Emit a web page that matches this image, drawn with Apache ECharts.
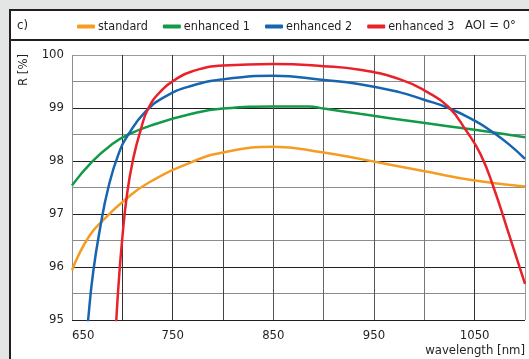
<!DOCTYPE html>
<html>
<head>
<meta charset="utf-8">
<script src="https://cdn.jsdelivr.net/npm/echarts@6/dist/echarts.min.js"></script>
<style>
  html, body { margin: 0; padding: 0; background: #e3e6e5; }
  #chart { width: 529px; height: 359px; }
</style>
</head>
<body>
<div id="chart"></div>
<script>
// Reflectance R [%] of mirror coatings versus wavelength, AOI = 0°
const seriesNames = ['standard', 'enhanced 1', 'enhanced 2', 'enhanced 3'];
const seriesColors = ['#f59d23', '#129a48', '#1765b0', '#e8212b'];

const standardWl = [650, 667, 683, 701, 726, 769, 800, 850, 900, 936, 999, 1050, 1100];
const standardR  = [95.94, 96.58, 96.92, 97.24, 97.59, 97.98, 98.16, 98.27, 98.16, 98.04, 97.81, 97.63, 97.52];

const enhanced1Wl = [650, 670, 690, 706, 730, 769, 800, 850, 885, 900, 936, 999, 1050, 1100];
const enhanced1R  = [97.54, 97.99, 98.32, 98.5, 98.68, 98.89, 98.99, 99.03, 99.03, 98.99, 98.89, 98.72, 98.59, 98.45];

const enhanced2Wl = [660, 666, 671, 678, 686, 696, 706, 723, 743, 769, 800, 850, 900, 936, 975, 999, 1024, 1050, 1069, 1085, 1100];
const enhanced2R  = [93.8, 95.0, 95.9, 96.74, 97.49, 98.12, 98.5, 98.93, 99.22, 99.42, 99.54, 99.61, 99.53, 99.45, 99.3, 99.16, 99.0, 98.76, 98.53, 98.3, 98.04];

const enhanced3Wl = [690, 694, 696, 700, 705, 711, 718, 726, 740, 753, 769, 800, 850, 900, 936, 976, 1003, 1024, 1042, 1056, 1069, 1082, 1100];
const enhanced3R  = [93.8, 95.0, 95.6, 96.55, 97.42, 98.06, 98.57, 99.0, 99.35, 99.54, 99.69, 99.8, 99.83, 99.79, 99.72, 99.54, 99.3, 99.02, 98.56, 98.12, 97.49, 96.74, 95.68];

const xLabelTicks = [650, 750, 850, 950, 1050];
const yLabelTicks = [95, 96, 97, 98, 99, 100];

const FONT = '"DejaVu Sans Condensed", "DejaVu Sans", sans-serif';
const INK = '#231f20';

function pairs(xs, ys) { return xs.map((x, i) => [x, ys[i]]); }

const seriesData = [
  pairs(standardWl, standardR),
  pairs(enhanced1Wl, enhanced1R),
  pairs(enhanced2Wl, enhanced2R),
  pairs(enhanced3Wl, enhanced3R)
];

const chart = echarts.init(document.getElementById('chart'), null, { renderer: 'canvas' });

chart.setOption({
  backgroundColor: '#e3e6e5',
  animation: false,
  textStyle: { fontFamily: FONT, color: INK },
  graphic: [
    // framed panel with header strip
    { type: 'rect', z: -10, shape: { x: 10, y: 10, width: 540, height: 370 },
      style: { fill: '#ffffff', stroke: '#231f20', lineWidth: 2 } },
    { type: 'line', z: -9, shape: { x1: 10, y1: 40, x2: 529, y2: 40 },
      style: { stroke: '#231f20', lineWidth: 2 } },
    { type: 'text', left: 17, top: 19,
      style: { text: 'c)', font: '13px ' + FONT, fill: INK } },
    { type: 'text', left: 465, top: 19,
      style: { text: 'AOI = 0°', font: '13px ' + FONT, fill: INK } },
    { type: 'text', right: 4, top: 344,
      style: { text: 'wavelength [nm]', font: '13px ' + FONT, fill: INK } },
    { type: 'text', x: 17, y: 86, rotation: Math.PI / 2,
      style: { text: 'R [%]', font: '13px ' + FONT, fill: INK } }
  ],
  legend: {
    left: 77, top: 20, padding: 0,
    itemWidth: 18, itemHeight: 4, itemGap: 15,
    icon: 'roundRect',
    textStyle: { fontFamily: FONT, fontSize: 12.5, color: INK, padding: [0, 0, 0, -2] },
    data: seriesNames
  },
  grid: { left: 72, top: 55, right: 4, bottom: 39 },
  xAxis: {
    type: 'value', min: 650, max: 1100, interval: 50,
    axisLine: { show: false }, axisTick: { show: false },
    axisLabel: {
      margin: 9, fontSize: 13, color: INK, fontFamily: FONT,
      alignMinLabel: 'left',
      formatter: v => xLabelTicks.includes(v) ? String(v) : ''
    },
    splitLine: { show: true, lineStyle: { width: 1,
      color: ['#8c8c8c', '#333', '#333', '#444', '#555', '#666', '#555', '#777', '#333', '#999'] } }
  },
  yAxis: {
    type: 'value', min: 95, max: 100, interval: 0.5,
    axisLine: { show: false }, axisTick: { show: false },
    axisLabel: {
      margin: 8, fontSize: 13, color: INK, fontFamily: FONT,
      formatter: v => yLabelTicks.includes(v) ? String(v) : ''
    },
    splitLine: { show: true, lineStyle: { width: 1,
      color: ['#231f20', '#8c8c8c', '#231f20', '#8c8c8c', '#231f20', '#8c8c8c', '#231f20', '#8c8c8c', '#231f20', '#8c8c8c', '#9a9a9a'] } }
  },
  series: seriesNames.map((name, i) => ({
    name, type: 'line',
    data: seriesData[i],
    color: seriesColors[i],
    showSymbol: false,
    smooth: 0.5,
    clip: true,
    lineStyle: { width: 2.5, color: seriesColors[i] },
    z: 2 + i
  }))
});
</script>
</body>
</html>
